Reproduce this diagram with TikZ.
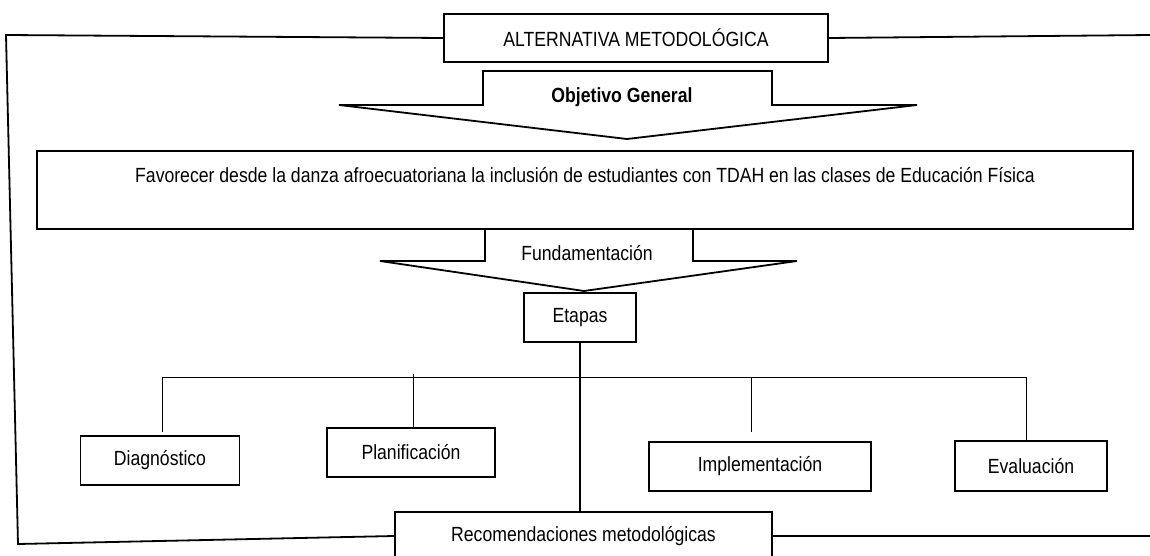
\documentclass[tikz,border=0pt]{standalone}
\usepackage{fontspec}
\setmainfont{Liberation Sans}[FakeStretch=0.86]
\begin{document}
\begin{tikzpicture}[x=1pt,y=-1pt,
  txt/.style={font=\fontsize{20.5}{24}\selectfont, inner sep=0pt},
  box/.style={draw, line width=1.8pt, txt, anchor=center},
  frame/.style={line width=1.8pt},
  tree/.style={line width=0.9pt},
  arrowshape/.style={draw, line width=1.8pt, fill=white, line join=miter}
]
\useasboundingbox (0,0) rectangle (1150,556);

% top box
\node[box, minimum width=384pt, minimum height=48pt] (alt) at (636,38) {ALTERNATIVA METODOLÓGICA};

% main objective box
\node[box, minimum width=1096pt, minimum height=78pt] (obj) at (585,190) {};
\node[txt] (objtxt) at (585,175) {Favorecer desde la danza afroecuatoriana la inclusión de estudiantes con TDAH en las clases de Educación Física};

% Objetivo General arrow
\draw[arrowshape] (339,105) -- (483,105) -- (483,71) -- (772,71) -- (772,105) -- (917,105) -- (627,139) -- cycle;
\node[txt, font=\fontsize{20.5}{24}\selectfont\bfseries] (og) at (622,97) {Objetivo General};

% Fundamentacion arrow
\draw[arrowshape] (380,261) -- (485,261) -- (485,229) -- (693,229) -- (693,261) -- (797,261) -- (584,291) -- cycle;
\node[txt] (fund) at (587,253) {Fundamentación};

% Etapas
\node[box, minimum width=112pt, minimum height=49pt] (etapas) at (580,317.5) {Etapas};

% stages
\node[box, minimum width=159pt, minimum height=49pt] (diag) at (160,460.5) {Diagnóstico};
\node[box, minimum width=168pt, minimum height=49pt] (plan) at (411,452.5) {Planificación};
\node[box, minimum width=222pt, minimum height=49pt] (impl) at (760,466.5) {Implementación};
\node[box, minimum width=152pt, minimum height=50pt] (eval) at (1031,466) {Evaluación};

% recommendations
\node[box, minimum width=377pt, minimum height=48pt] (rec) at (583.5,536) {Recomendaciones metodológicas};

% frame lines
\coordinate (tl) at (6,35);
\coordinate (bl) at (18,544);
\coordinate (tr) at (1152,35);
\coordinate (br) at (1152,536);
\draw[frame] (alt.west) -- (tl) -- (bl) -- (rec.west);
\draw[frame] (alt.east) -- (tr);
\draw[frame] (rec.east) -- (br);

% tree
\coordinate (barL) at (162,377);
\coordinate (barR) at (1026,377);
\draw[tree] (barL) -- (barR);
\draw[frame] (etapas.south) -- (etapas.south |- rec.north);
\draw[tree] (barL) -- (162,432);
\draw[tree] (413,374) -- (413,428);
\draw[tree] (751,377) -- (751,432);
\draw[tree] (barR) -- (eval.north -| barR);
\end{tikzpicture}
\end{document}
